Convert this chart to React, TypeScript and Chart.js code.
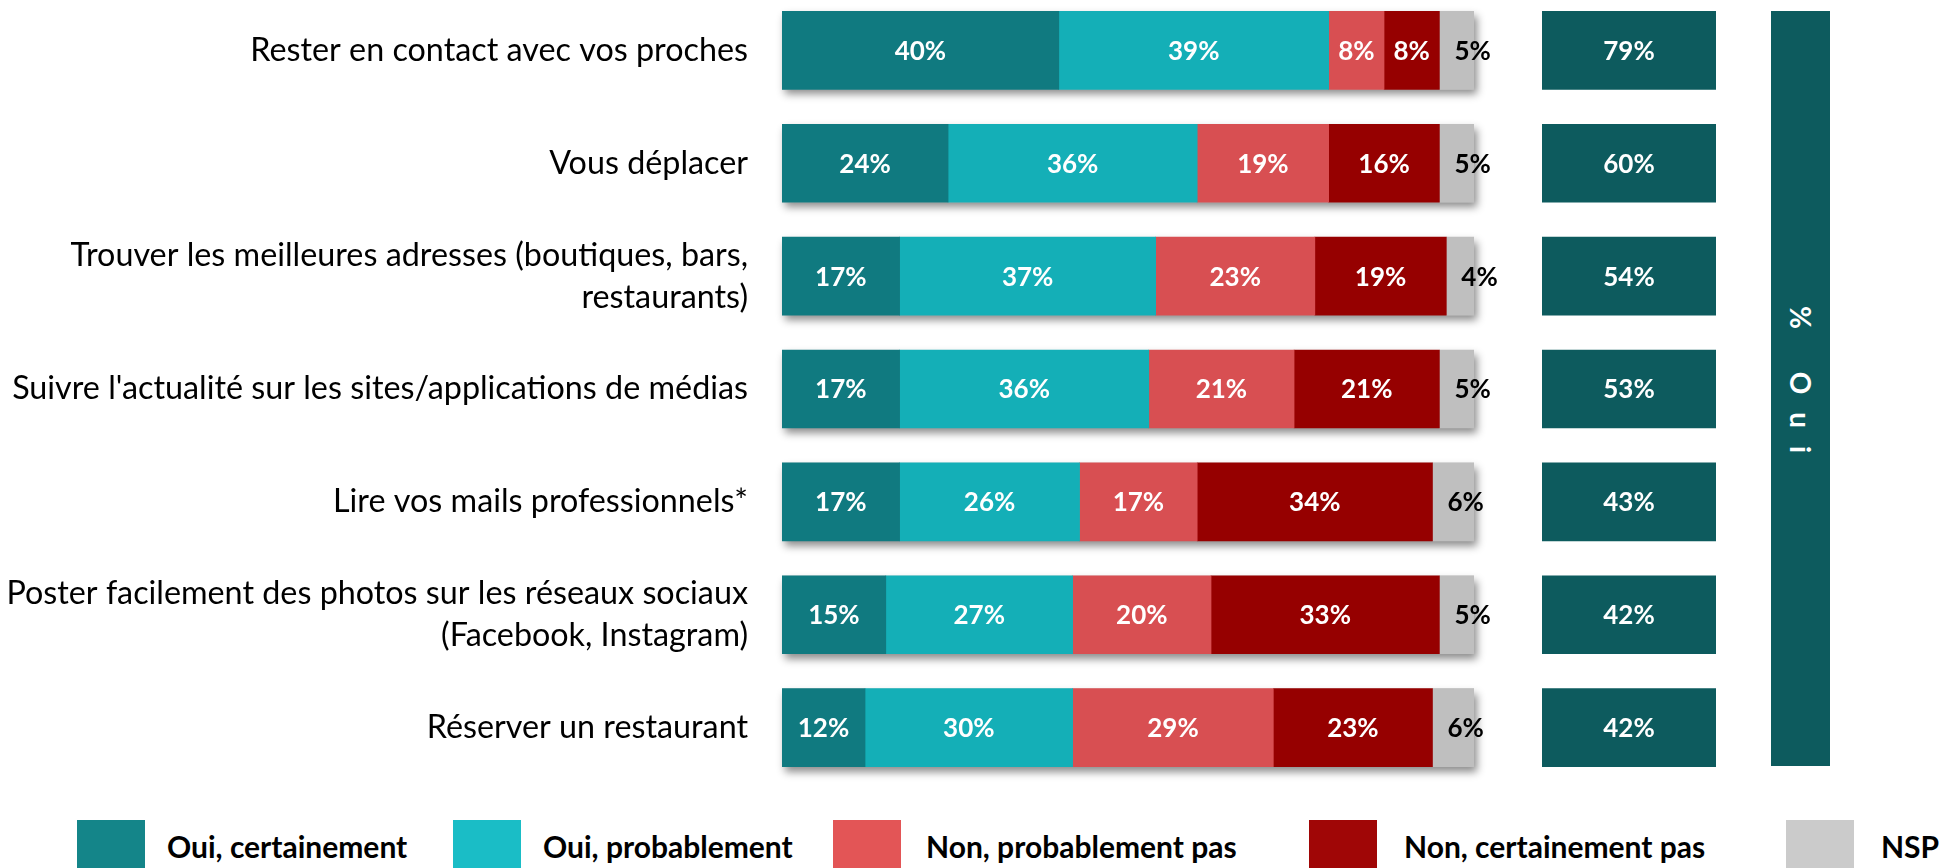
import React, { useEffect, useRef } from "react";
import { Chart, registerables } from "chart.js";

Chart.register(...registerables);

// ---------- DATA ----------
const categories: (string | string[])[] = [
  "Rester en contact avec vos proches",
  "Vous déplacer",
  ["Trouver les meilleures adresses (boutiques, bars,", "restaurants)"],
  "Suivre l'actualité sur les sites/applications de médias",
  "Lire vos mails professionnels*",
  ["Poster facilement des photos sur les réseaux sociaux", "(Facebook, Instagram)"],
  "Réserver un restaurant",
];
const ouiCertainement = [40, 24, 17, 17, 17, 15, 12];
const ouiProbablement = [39, 36, 37, 36, 26, 27, 30];
const nonProbablementPas = [8, 19, 23, 21, 17, 20, 29];
const nonCertainementPas = [8, 16, 19, 21, 34, 33, 23];
const nsp = [5, 5, 4, 5, 6, 5, 6];
const ouiTotals = [79, 60, 54, 53, 43, 42, 42];
const seriesNames = [
  "Oui, certainement",
  "Oui, probablement",
  "Non, probablement pas",
  "Non, certainement pas",
  "NSP",
];
const totalTitle = "% Oui";

// ---------- STYLE ----------
const barColors = ["#107A80", "#14AFB7", "#D84F52", "#960000", "#BFBFBF"];
const legendColors = ["#148589", "#1ABDC6", "#E35556", "#A00606", "#CBCBCB"];
const labelColors = ["#FFFFFF", "#FFFFFF", "#FFFFFF", "#FFFFFF", "#000000"];
const ouiColor = "#0D5B5E";
const FONT = "Lato";
const legendBoxLeft = [77, 453, 833, 1309, 1786];
const legendTextLeft = [167, 543, 926, 1404, 1881];

const LABEL_SIZE = 32.3;
const LABEL_LH = 1.3;
const EDGE = (LABEL_SIZE * LABEL_LH) / 2; // half label height that Chart.js reserves above/below

const seriesData = [ouiCertainement, ouiProbablement, nonProbablementPas, nonCertainementPas, nsp];

const shadowPlugin = {
  id: "rowShadow",
  beforeDatasetsDraw(chart: any) {
    const { ctx } = chart;
    const xs = chart.scales.x;
    const ys = chart.scales.y;
    ctx.save();
    ctx.shadowColor = "rgba(0,0,0,0.45)";
    ctx.shadowBlur = 8;
    ctx.shadowOffsetX = 3;
    ctx.shadowOffsetY = 5;
    ctx.fillStyle = "#BFBFBF";
    categories.forEach((_, i) => {
      const total = seriesData.reduce((s, arr) => s + arr[i], 0);
      const yc = ys.getPixelForValue(i);
      const x0 = xs.getPixelForValue(0);
      const x1 = xs.getPixelForValue(total);
      ctx.fillRect(x0, yc - 39, x1 - x0, 78);
    });
    ctx.restore();
  },
};

const valueLabelPlugin = {
  id: "valueLabels",
  afterDatasetsDraw(chart: any) {
    const { ctx } = chart;
    ctx.save();
    ctx.font = `bold 26px ${FONT}`;
    ctx.textBaseline = "middle";
    chart.data.datasets.forEach((ds: any, d: number) => {
      const meta = chart.getDatasetMeta(d);
      meta.data.forEach((el: any, i: number) => {
        const { x, base, y } = el.getProps(["x", "base", "y"], true);
        const txt = `${ds.data[i]}%`;
        ctx.fillStyle = labelColors[d];
        if (d === 4) {
          ctx.textAlign = "left";
          ctx.fillText(txt, Math.min(x, base) + 15, y + 1);
        } else {
          ctx.textAlign = "center";
          ctx.fillText(txt, (x + base) / 2, y + 1);
        }
      });
    });
    ctx.restore();
  },
};

const totalLabelPlugin = {
  id: "totalLabels",
  afterDatasetsDraw(chart: any) {
    const { ctx } = chart;
    ctx.save();
    ctx.font = `bold 26px ${FONT}`;
    ctx.textBaseline = "middle";
    ctx.textAlign = "center";
    ctx.fillStyle = "#FFFFFF";
    const meta = chart.getDatasetMeta(0);
    meta.data.forEach((el: any, i: number) => {
      const { x, base, y } = el.getProps(["x", "base", "y"], true);
      ctx.fillText(`${ouiTotals[i]}%`, (x + base) / 2, y + 1);
    });
    ctx.restore();
  },
};

export default function App() {
  const mainRef = useRef<HTMLCanvasElement>(null);
  const totRef = useRef<HTMLCanvasElement>(null);

  useEffect(() => {
    const main = new Chart(mainRef.current!, {
      type: "bar",
      data: {
        labels: categories as any,
        datasets: seriesData.map((arr, d) => ({
          label: seriesNames[d],
          data: arr,
          backgroundColor: barColors[d],
          borderWidth: 0,
          barThickness: 78,
        })),
      },
      options: {
        indexAxis: "y",
        animation: false,
        responsive: false,
        maintainAspectRatio: false,
        layout: { padding: { left: 0, right: 46, top: 0, bottom: 0 } },
        plugins: { legend: { display: false }, tooltip: { enabled: false } },
        scales: {
          x: { stacked: true, min: 0, max: 100, display: false },
          y: {
            stacked: true,
            grid: { display: false, drawTicks: true, tickLength: 34 },
            border: { display: false },
            ticks: {
              autoSkip: false,
              color: "#000000",
              padding: 0,
              font: { family: FONT, size: LABEL_SIZE, lineHeight: LABEL_LH },
            },
            afterFit: (s: any) => {
              s.width = 782;
            },
          },
        },
      } as any,
      plugins: [shadowPlugin, valueLabelPlugin],
    });

    const tot = new Chart(totRef.current!, {
      type: "bar",
      data: {
        labels: categories as any,
        datasets: [
          {
            label: totalTitle,
            data: ouiTotals.map(() => 1),
            backgroundColor: ouiColor,
            borderWidth: 0,
            barThickness: 78,
          },
        ],
      },
      options: {
        indexAxis: "y",
        animation: false,
        responsive: false,
        maintainAspectRatio: false,
        layout: { padding: 0 },
        plugins: { legend: { display: false }, tooltip: { enabled: false } },
        scales: {
          x: { min: 0, max: 1, display: false },
          y: { display: false },
        },
      } as any,
      plugins: [totalLabelPlugin],
    });

    return () => {
      main.destroy();
      tot.destroy();
    };
  }, []);

  const mainH = Math.round(790 + 2 * EDGE);
  const mainTop = -6 - Math.round(EDGE);

  return (
    <div
      style={{
        position: "absolute",
        left: 0,
        top: 0,
        width: 1939,
        height: 868,
        overflow: "hidden",
        background: "#FFFFFF",
        fontFamily: FONT,
      }}
    >
      <canvas
        ref={mainRef}
        width={1520}
        height={mainH}
        style={{ position: "absolute", left: 0, top: mainTop, width: 1520, height: mainH, display: "block" }}
      />
      <canvas
        ref={totRef}
        width={174}
        height={790}
        style={{ position: "absolute", left: 1542, top: -6, width: 174, height: 790, display: "block" }}
      />
      <div
        style={{
          position: "absolute",
          left: 1771,
          top: 11,
          width: 59,
          height: 755,
          background: ouiColor,
          display: "flex",
          alignItems: "center",
          justifyContent: "center",
        }}
      >
        <span
          style={{
            writingMode: "vertical-rl",
            color: "#FFFFFF",
            fontWeight: 700,
            fontSize: 28,
            letterSpacing: 18,
            fontFamily: FONT,
          }}
        >
          {totalTitle}
        </span>
      </div>
      {seriesNames.map((name, i) => (
        <React.Fragment key={name}>
          <div
            style={{
              position: "absolute",
              left: legendBoxLeft[i],
              top: 820,
              width: 68,
              height: 60,
              background: legendColors[i],
            }}
          />
          <div
            style={{
              position: "absolute",
              left: legendTextLeft[i],
              top: 831,
              fontSize: 30,
              lineHeight: "30px",
              fontWeight: 700,
              color: "#000000",
              whiteSpace: "nowrap",
              fontFamily: FONT,
            }}
          >
            {name}
          </div>
        </React.Fragment>
      ))}
    </div>
  );
}
